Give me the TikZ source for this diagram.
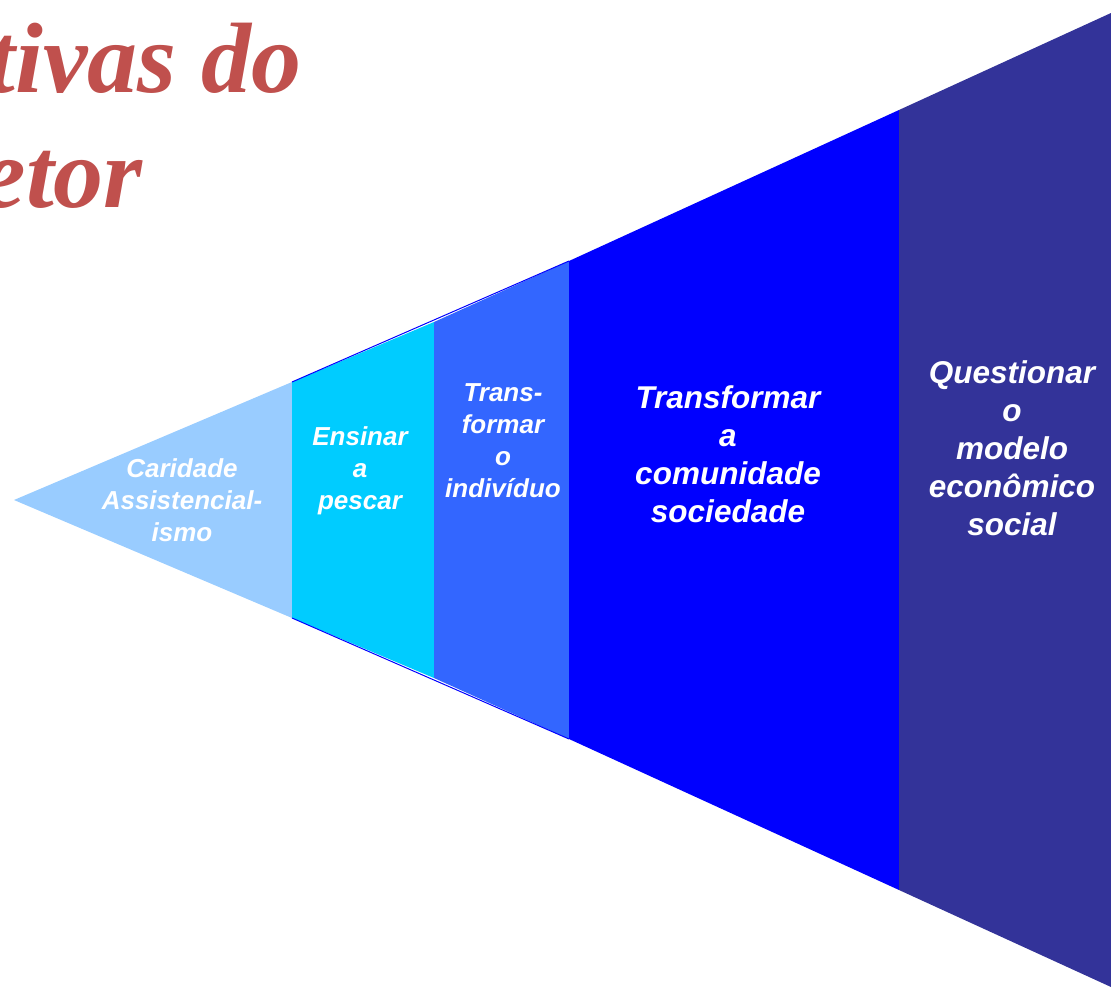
\documentclass[tikz,border=0pt]{standalone}
\usepackage{fontspec}
\setmainfont{Liberation Sans}
\newfontfamily\titlefont{Liberation Serif}
\definecolor{segA}{HTML}{99CCFF}
\definecolor{segB}{HTML}{00CCFF}
\definecolor{segC}{HTML}{3366FF}
\definecolor{segD}{HTML}{0000FF}
\definecolor{segE}{HTML}{333399}
\definecolor{titlered}{HTML}{C0504D}
\tikzset{
  titletext/.style={inner sep=0pt, text=titlered, font=\titlefont\bfseries\itshape\fontsize{100}{115}\selectfont},
  smalllabel/.style={inner sep=0pt, text=white, align=center, font=\bfseries\itshape\fontsize{26}{32}\selectfont},
  biglabel/.style={inner sep=0pt, text=white, align=center, font=\bfseries\itshape\fontsize{31.5}{38}\selectfont},
  edgeline/.style={draw=segD, line width=1pt}
}
\begin{document}
\begin{tikzpicture}[x=1pt,y=-1pt]
\useasboundingbox (0,0) rectangle (1111,992);
\begin{scope}
\clip (0,0) rectangle (1111,992);
\node[titletext, anchor=base east] (t1) at (302,93) {tivas do};
\node[titletext, anchor=base east] (t2) at (143,208) {etor};
\end{scope}
% segments
\fill[segA] (14,500) -- (292,382) -- (292,618) -- cycle;
\fill[segB] (292,382) -- (434,322) -- (434,678) -- (292,618) -- cycle;
\fill[segC] (434,322) -- (569,261) -- (569,739) -- (434,678) -- cycle;
\fill[segD] (569,261) -- (899,110) -- (899,890) -- (569,739) -- cycle;
\fill[segE] (899,110) -- (1111,13) -- (1111,987) -- (899,890) -- cycle;
\draw[edgeline] (292,382) -- (569,261);
\draw[edgeline] (292,618) -- (569,739);
% labels
\node[smalllabel] (l1) at (182,500) {Caridade\\Assistencial-\\ismo};
\node[smalllabel] (l2) at (360,471) {Ensinar\\a\\pescar};
\node[smalllabel] (l3) at (503,441) {Trans-\\formar\\o\\indivíduo};
\node[biglabel] (l4) at (728,454) {Transformar\\a\\comunidade\\sociedade};
\node[biglabel] (l5) at (1012,448) {Questionar\\o\\modelo\\econômico\\social};
\end{tikzpicture}
\end{document}
